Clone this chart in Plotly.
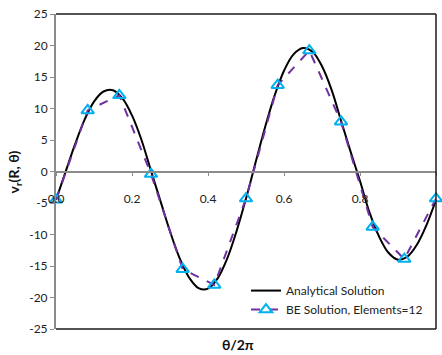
import plotly.graph_objects as go

# ---- data ----
be_x = [0, 1/12, 2/12, 3/12, 4/12, 5/12, 6/12, 7/12, 8/12, 9/12, 10/12, 11/12, 1.0]
be_y = [-4.5, 9.7, 12.1, -0.4, -15.5, -18.0, -4.3, 13.7, 19.2, 7.9, -8.8, -13.9, -4.3]

an_x = [0.0, 0.025, 0.05, 0.075, 0.1, 0.125, 0.15, 0.175, 0.2, 0.225,
        0.25, 0.275, 0.3, 0.325, 0.35, 0.375, 0.4, 0.425, 0.45, 0.475,
        0.5, 0.525, 0.55, 0.575, 0.6, 0.625, 0.65, 0.675, 0.7, 0.725,
        0.75, 0.775, 0.8, 0.825, 0.85, 0.875, 0.9, 0.925, 0.95, 0.975, 1.0]
an_y = [-4.5, -0.1, 4.3, 8.2, 11.1, 12.7, 12.9, 11.6, 8.9, 5.0,
        0.1, -4.7, -9.5, -13.7, -16.8, -18.5, -18.6, -17.0, -13.9, -9.5,
        -4.3, 1.4, 7.0, 12.0, 16.0, 18.6, 19.6, 19.0, 16.7, 13.0,
        8.1, 3.2, -1.5, -6.5, -10.3, -12.9, -14.0, -13.5, -11.6, -8.5, -4.5]

y_tickvals = [-25, -20, -15, -10, -5, 0, 5, 10, 15, 20, 25]
y_ticktext = ["-25", "-20", "-15", "-10", "-5", "0", "5", "10", "15", "20", "25"]
x_tickvals = [0.0, 0.2, 0.4, 0.6, 0.8, 1.0]
x_ticktext = ["0.0", "0.2", "0.4", "0.6", "0.8", "1.0"]

FONT = "Lato"

fig = go.Figure()
fig.add_trace(go.Scatter(
    x=an_x, y=an_y, mode="lines", name="Analytical Solution",
    line=dict(color="black", width=2, shape="spline", smoothing=1.0),
    legendgroup="a", cliponaxis=False))
fig.add_trace(go.Scatter(
    x=be_x, y=be_y, mode="lines+markers", name="BE Solution, Elements=12",
    line=dict(color="#7030A0", width=2, dash="dash"),
    marker=dict(symbol="triangle-up-open", size=11, color="#00B0F0",
                line=dict(color="#00B0F0", width=2)),
    legendgroup="b", cliponaxis=False))

fig.update_layout(
    width=442, height=355,
    margin=dict(l=56, r=6, t=12, b=26),
    paper_bgcolor="white", plot_bgcolor="white",
    font=dict(family=FONT, size=12, color="#222"),
    showlegend=True,
    legend=dict(x=0.50, y=0.168, xanchor="left", yanchor="top",
                bgcolor="rgba(0,0,0,0)", borderwidth=0,
                font=dict(family=FONT, size=12, color="#222"),
                tracegroupgap=0),
    xaxis=dict(range=[0, 1], tickvals=x_tickvals, ticktext=x_ticktext,
               anchor="free", position=0.5, side="bottom",
               showline=True, linecolor="#8c8c8c",
               linewidth=1.5, ticks="outside", ticklen=4, tickcolor="#8c8c8c",
               tickwidth=1, showgrid=False, zeroline=False,
               ticklabelstandoff=12,
               tickfont=dict(family=FONT, size=12, color="#222")),
    yaxis=dict(range=[-25, 25], tickvals=y_tickvals, ticktext=y_ticktext,
               showline=True, linecolor="#8c8c8c", linewidth=2,
               ticks="outside", ticklen=4, tickcolor="#8c8c8c",
               showgrid=False, zeroline=False,
               tickfont=dict(family=FONT, size=12, color="#222")),
)

# plot-area border (top, right, bottom)
for (x0, y0, x1, y1) in [(0, 1, 1, 1), (1, 0, 1, 1), (0, 0, 1, 0)]:
    fig.add_shape(type="line", xref="x domain", yref="y domain",
                  x0=x0, y0=y0, x1=x1, y1=y1,
                  line=dict(color="#1a1a1a", width=1.5))

fig.add_annotation(text="<b>θ/2π</b>", xref="paper", yref="paper",
                   x=0.48, y=-0.05, xanchor="center", yanchor="middle",
                   showarrow=False, font=dict(family=FONT, size=14, color="#111"))
fig.add_annotation(text="<b>v<sub>r</sub>(R, θ)</b>", xref="paper", yref="paper",
                   x=-0.108, y=0.5, xanchor="center", yanchor="middle",
                   textangle=-90, showarrow=False,
                   font=dict(family=FONT, size=14, color="#111"))

fig.write_html("out.html",
               config={"displayModeBar": False},
               post_script="document.body.style.margin='0';document.body.style.padding='0';")
